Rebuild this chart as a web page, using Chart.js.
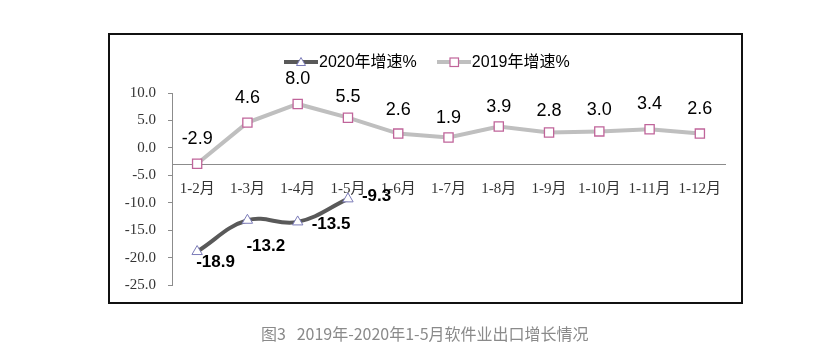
<!DOCTYPE html>
<html>
<head>
<meta charset="utf-8">
<script src="https://cdn.jsdelivr.net/npm/chart.js@4/dist/chart.umd.min.js"></script>
<style>
  html, body { margin: 0; padding: 0; background: #fff; }
  #wrap { position: relative; width: 817px; height: 362px; overflow: hidden; }
  #frame { position: absolute; left: 108px; top: 33px; width: 631px; height: 267px; border: 2px solid #111; }
  #chart { position: absolute; left: 0; top: 0; }
  #legend { position: absolute; left: 284px; top: 52px; display: flex; align-items: center;
    font: 16px "Liberation Sans", "Noto Sans CJK SC", sans-serif; color: #000; line-height: 20px; }
  #legend .item { display: flex; align-items: center; margin-right: 20px; }
  #legend svg { margin-right: 1px; }
  #caption { position: absolute; left: 261px; top: 322px; font: 16px "Noto Sans CJK SC", sans-serif;
    color: #8a8a8a; line-height: 22px; white-space: pre; }
</style>
</head>
<body>
<div id="wrap">
  <div id="frame"></div>
  <canvas id="chart" width="817" height="362"></canvas>
  <div id="legend"></div>
  <div id="caption">图3   2019年-2020年1-5月软件业出口增长情况</div>
</div>
<script>
// 累计月份
const categories = ['1-2月', '1-3月', '1-4月', '1-5月', '1-6月', '1-7月', '1-8月', '1-9月', '1-10月', '1-11月', '1-12月'];
// 软件业出口增速 (%)
const growth2020 = [-18.9, -13.2, -13.5, -9.3];
const growth2019 = [-2.9, 4.6, 8.0, 5.5, 2.6, 1.9, 3.9, 2.8, 3.0, 3.4, 2.6];
const seriesNames = ['2020年增速%', '2019年增速%'];
const yMin = -25, yMax = 10, yStep = 5;
const xAxisCross = -3;

// label placement relative to each point (style only)
const labelStyles = [
  { font: 'bold 17px "Liberation Sans", sans-serif', align: 'left',
    offsets: [[-1, 11], [-1, 26], [14, 2], [14, -3]] },
  { font: '18px "Liberation Sans", sans-serif', align: 'center',
    offsets: [[0, -25], [0, -25], [0, -25], [0, -21], [0, -24], [0, -19], [0, -19], [0, -21], [0, -21], [0, -25], [0, -25]] }
];

const styles2020 = { line: '#595959', marker: '#7B7BB8', shape: 'triangle' };
const styles2019 = { line: '#BFBFBF', marker: '#C0649A', shape: 'rect' };

const valueLabels = {
  id: 'valueLabels',
  afterDatasetsDraw(chart) {
    const ctx = chart.ctx;
    chart.data.datasets.forEach((ds, i) => {
      const meta = chart.getDatasetMeta(i);
      const st = labelStyles[i];
      ctx.save();
      ctx.font = st.font;
      ctx.fillStyle = '#000';
      ctx.textAlign = st.align;
      ctx.textBaseline = 'middle';
      meta.data.forEach((pt, j) => {
        const v = ds.data[j];
        if (v == null) return;
        const off = st.offsets[j] || [0, 0];
        ctx.fillText(v.toFixed(1), pt.x + off[0], pt.y + off[1]);
      });
      ctx.restore();
    });
  }
};

const ctx = document.getElementById('chart');
const chart = new Chart(ctx, {
  type: 'line',
  data: {
    labels: categories,
    datasets: [{
      label: seriesNames[0],
      data: growth2020,
      borderColor: styles2020.line,
      borderWidth: 4,
      tension: 0.4,
      pointStyle: styles2020.shape,
      pointRadius: 6,
      pointBorderWidth: 1,
      pointBorderColor: styles2020.marker,
      pointBackgroundColor: '#fff',
      clip: false
    }, {
      label: seriesNames[1],
      data: growth2019,
      borderColor: styles2019.line,
      borderWidth: 4,
      tension: 0,
      pointStyle: styles2019.shape,
      pointRadius: 6.5,
      pointBorderWidth: 1.3,
      pointBorderColor: styles2019.marker,
      pointBackgroundColor: '#fff',
      clip: false
    }]
  },
  options: {
    responsive: false,
    animation: false,
    layout: { padding: { left: 100, right: 92, top: 93, bottom: 77 } },
    plugins: {
      legend: { display: false },
      tooltip: { enabled: false }
    },
    scales: {
      x: {
        position: { y: xAxisCross },
        offset: true,
        grid: { display: false },
        border: { color: '#8c8c8c', width: 1 },
        ticks: {
          color: '#333',
          padding: 8,
          maxRotation: 0,
          autoSkip: false,
          font: { family: '"Liberation Serif", "Noto Sans CJK SC", serif', size: 15 }
        }
      },
      y: {
        min: yMin,
        max: yMax,
        afterFit(scale) { scale.width = 72; },
        grid: { drawOnChartArea: false, drawTicks: true, tickLength: 4, color: '#8c8c8c' },
        border: { color: '#8c8c8c', width: 1 },
        ticks: {
          stepSize: yStep,
          color: '#333',
          padding: 12,
          font: { family: '"Liberation Serif", serif', size: 15 },
          callback: v => v.toFixed(1)
        }
      }
    }
  },
  plugins: [valueLabels]
});

// legend: line sample with marker, then series name
const legendEl = document.getElementById('legend');
[styles2020, styles2019].forEach((s, i) => {
  const marker = s.shape === 'triangle'
    ? '<polygon points="17,1.5 21.5,9.5 12.5,9.5" fill="#fff" stroke="' + s.marker + '" stroke-width="1"/>'
    : '<rect x="13" y="2" width="8.5" height="8.5" fill="#fff" stroke="' + s.marker + '" stroke-width="1.2"/>';
  const item = document.createElement('div');
  item.className = 'item';
  item.innerHTML = '<svg width="34" height="12"><line x1="0" y1="6" x2="34" y2="6" stroke="' + s.line +
    '" stroke-width="4"/>' + marker + '</svg><span>' + chart.data.datasets[i].label + '</span>';
  legendEl.appendChild(item);
});
</script>
</body>
</html>
